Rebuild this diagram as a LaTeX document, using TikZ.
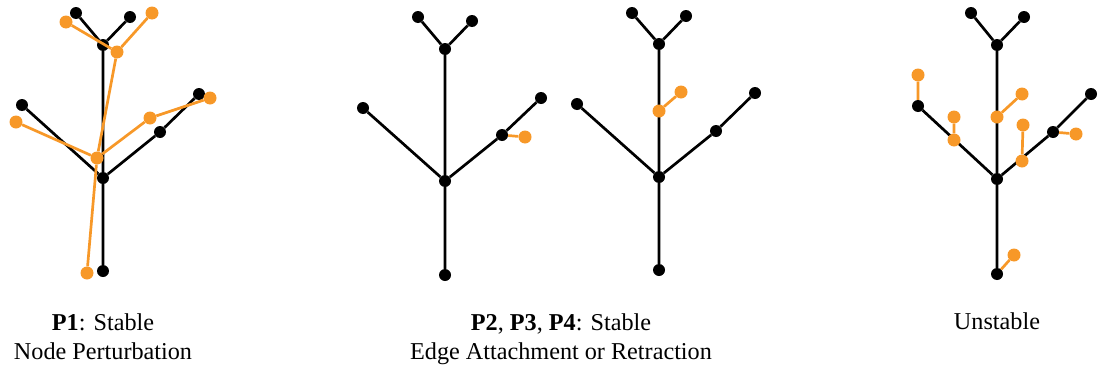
\documentclass[tikz,border=0pt]{standalone}
\usepackage{fontspec}
\setmainfont{Liberation Serif}
\definecolor{treeorange}{RGB}{247,152,40}
\begin{document}
\begin{tikzpicture}[x=1pt,y=-1pt,
  bdot/.style={circle,fill=black,inner sep=0pt,minimum size=12pt},
  odot/.style={circle,fill=treeorange,inner sep=0pt,minimum size=13pt},
  bedge/.style={line width=2.7pt,black},
  oedge/.style={line width=2.7pt,treeorange},
  lab/.style={font=\fontsize{24.2}{29}\selectfont,align=center,anchor=base}]
\useasboundingbox (0,0) rectangle (1098,367);
% ---------- Tree 1 ----------
\node[bdot] (a1) at (76,13) {};
\node[bdot] (a2) at (130,17) {};
\node[bdot] (a3) at (103,45) {};
\node[bdot] (a4) at (22,105) {};
\node[bdot] (a5) at (199,94) {};
\node[bdot] (a6) at (160,132) {};
\node[bdot] (a7) at (103,178) {};
\node[bdot] (a8) at (103,271) {};
\draw[bedge] (a1)--(a3) (a2)--(a3) (a3)--(a7) (a4)--(a7) (a7)--(a6) (a6)--(a5) (a7)--(a8);
\node[odot] (p1) at (66,22) {};
\node[odot] (p2) at (152,13) {};
\node[odot] (p3) at (117,52) {};
\node[odot] (p4) at (16,122) {};
\node[odot] (p5) at (210,98) {};
\node[odot] (p6) at (150,118) {};
\node[odot] (p7) at (97,158) {};
\node[odot] (p8) at (87,273) {};
\draw[oedge] (p1)--(p3) (p2)--(p3) (p3)--(p7) (p4)--(p7) (p7)--(p6) (p6)--(p5) (p7)--(p8);
% ---------- Tree 2 ----------
\node[bdot] (b1) at (418,17) {};
\node[bdot] (b2) at (472,21) {};
\node[bdot] (b3) at (445,49) {};
\node[bdot] (b4) at (363,108) {};
\node[bdot] (b5) at (541,98) {};
\node[bdot] (b6) at (502,135) {};
\node[bdot] (b7) at (445,181) {};
\node[bdot] (b8) at (445,275) {};
\draw[bedge] (b1)--(b3) (b2)--(b3) (b3)--(b7) (b4)--(b7) (b7)--(b6) (b6)--(b5) (b7)--(b8);
\node[odot] (q1) at (525,137) {};
\draw[oedge] (b6)--(q1);
% ---------- Tree 3 ----------
\node[bdot] (c1) at (632,13) {};
\node[bdot] (c2) at (686,16) {};
\node[bdot] (c3) at (659,44) {};
\node[bdot] (c4) at (577,104) {};
\node[bdot] (c5) at (755,93) {};
\node[bdot] (c6) at (716,131) {};
\node[bdot] (c7) at (659,177) {};
\node[bdot] (c8) at (659,270) {};
\draw[bedge] (c1)--(c3) (c2)--(c3) (c3)--(c7) (c4)--(c7) (c7)--(c6) (c6)--(c5) (c7)--(c8);
\node[odot] (r1) at (659,111) {};
\node[odot] (r2) at (681,92) {};
\draw[oedge] (r1)--(r2);
% ---------- Tree 4 ----------
\node[bdot] (d1) at (971,13) {};
\node[bdot] (d2) at (1024,17) {};
\node[bdot] (d3) at (997,45) {};
\node[bdot] (d4) at (918,106) {};
\node[bdot] (d5) at (1091,94) {};
\node[bdot] (d6) at (1053,132) {};
\node[bdot] (d7) at (997,179) {};
\node[bdot] (d8) at (997,274) {};
\draw[bedge] (d1)--(d3) (d2)--(d3) (d3)--(d7) (d4)--(d7) (d7)--(d6) (d6)--(d5) (d7)--(d8);
\node[odot] (s1) at (918,75) {};
\node[odot] (s2) at (954,140) {};
\node[odot] (s3) at (954,117) {};
\node[odot] (s4) at (997,117) {};
\node[odot] (s5) at (1022,94) {};
\node[odot] (s6) at (1022,161) {};
\node[odot] (s7) at (1023,125) {};
\node[odot] (s8) at (1076,134) {};
\node[odot] (s9) at (1014,255) {};
\draw[oedge] (d4)--(s1) (s2)--(s3) (s4)--(s5) (s6)--(s7) (d6)--(s8) (d8)--(s9);
% ---------- Labels ----------
\node[lab] (l1) at (103,359) {\textbf{P1}: Stable\\Node Perturbation};
\node[lab] (l2) at (561,359) {\textbf{P2}, \textbf{P3}, \textbf{P4}: Stable\\Edge Attachment or Retraction};
\node[lab] (l3) at (997,329) {Unstable};
\end{tikzpicture}
\end{document}
